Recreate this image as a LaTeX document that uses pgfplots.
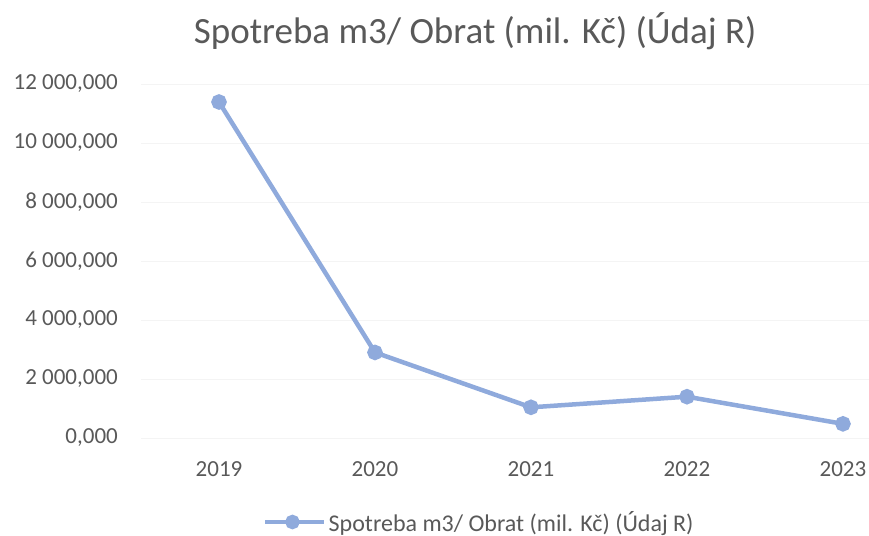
\documentclass[border=0pt]{standalone}
\usepackage{pgfplots}
\pgfplotsset{compat=1.18}
\usepackage{fontspec}
\setmainfont{Carlito}

\definecolor{txtgray}{RGB}{89,89,89}
\definecolor{lineblue}{RGB}{143,170,220}
\definecolor{gridgray}{RGB}{244,244,244}

\begin{document}
\begin{tikzpicture}[x=1bp,y=1bp]
\useasboundingbox (0,0) rectangle (869,536);
\begin{axis}[
    at={(141bp,98bp)}, anchor=south west,
    scale only axis,
    width=728bp, height=354bp,
    xmin=-0.5, xmax=4.167,
    ymin=0, ymax=12000,
    xtick={0,1,2,3,4},
    xticklabels={2019,2020,2021,2022,2023},
    ytick={0,2000,4000,6000,8000,10000,12000},
    yticklabels={{0,000},{2\ 000,000},{4\ 000,000},{6\ 000,000},{8\ 000,000},{10\ 000,000},{12\ 000,000}},
    scaled y ticks=false,
    axis line style={draw=none},
    major tick length=0pt,
    ymajorgrids=true,
    grid style={gridgray, line width=0.8bp},
    ticklabel style={font=\fontsize{23bp}{27bp}\selectfont, text=txtgray},
    yticklabel style={anchor=east, inner sep=0pt, xshift=-23bp},
    xticklabel style={anchor=base, inner sep=0pt, yshift=-39bp},
    title={Spotreba m3/ Obrat (mil. Kč) (Údaj R)},
    title style={font=\fontsize{37bp}{44bp}\selectfont, text=txtgray,
        at={(0.459,1.133)}, anchor=center},
    legend style={at={(0.1676,-0.2373)}, anchor=west, draw=none, fill=none,
        inner sep=0pt, font=\fontsize{24bp}{28bp}\selectfont, text=txtgray},
    legend image code/.code={
        \draw[lineblue, line width=4.5bp] (0bp,0bp) -- (59bp,0bp);
        \fill[lineblue] (27bp,0bp) circle (5bp);
    },
]
\addplot[lineblue, line width=4.5bp, mark=*, mark size=5.5bp,
    mark options={fill=lineblue, draw=lineblue}]
    coordinates {
    (0,11390)
    (1,2900)
    (2,1040)
    (3,1400)
    (4,480)
    };
\addlegendentry{Spotreba m3/ Obrat (mil. Kč) (Údaj R)}
\end{axis}
\end{tikzpicture}
\end{document}
